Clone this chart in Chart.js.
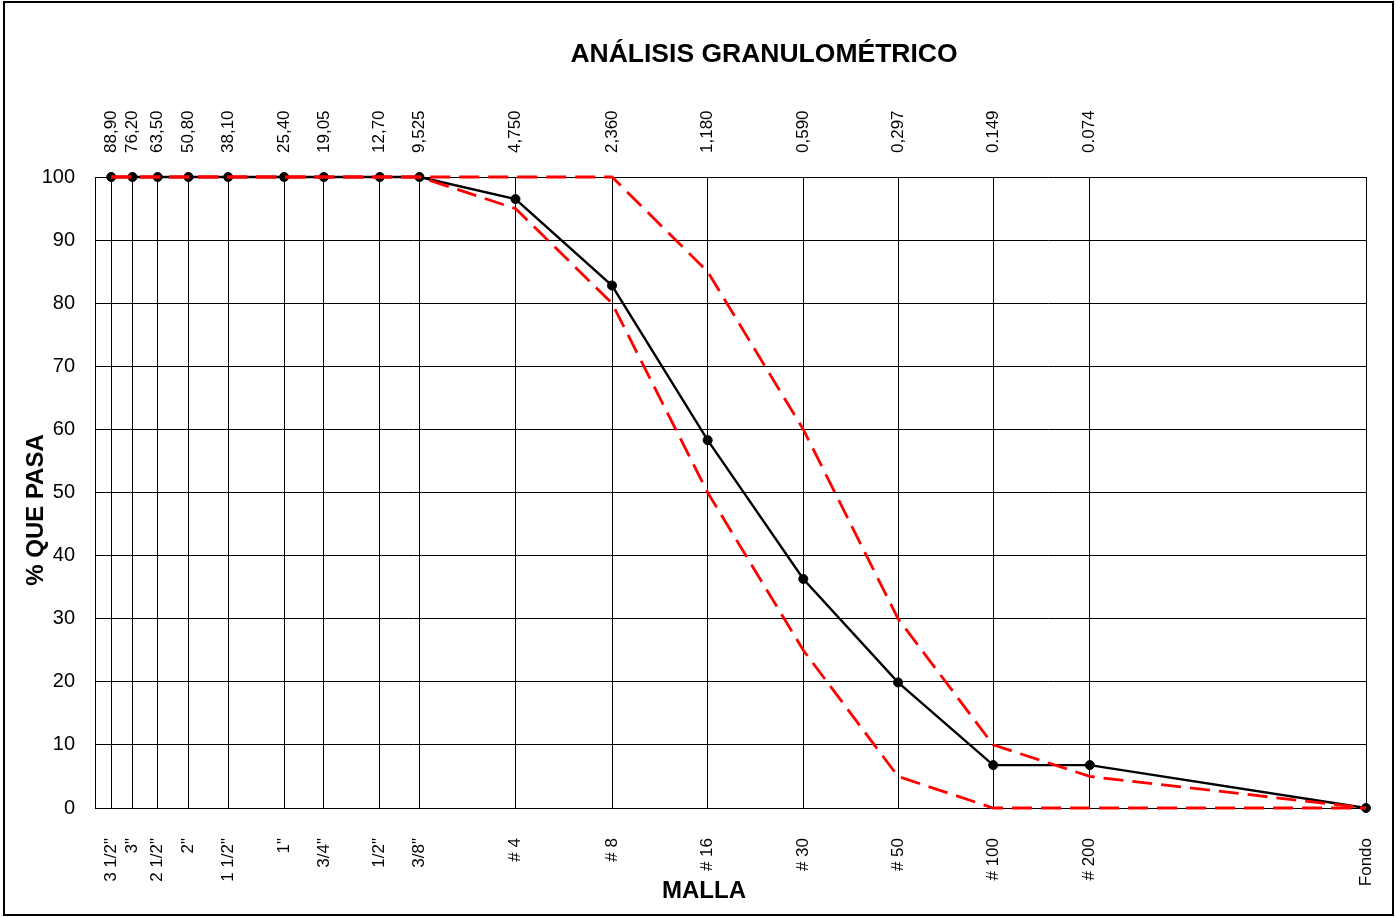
<!DOCTYPE html>
<html>
<head>
<meta charset="utf-8">
<script src="https://cdn.jsdelivr.net/npm/chart.js@4/dist/chart.umd.min.js"></script>
<style>
  html, body { margin: 0; padding: 0; background: #fff; }
  canvas { display: block; }
</style>
</head>
<body>
<canvas id="granuChart" width="1396" height="917"></canvas>
<script>
// Mallas (tamices) y su abertura en mm; "Fondo" se ubica en 0.01 en el eje log
const mallas = ['3 1/2"', '3"', '2 1/2"', '2"', '1 1/2"', '1"', '3/4"', '1/2"', '3/8"',
    '# 4', '# 8', '# 16', '# 30', '# 50', '# 100', '# 200', 'Fondo'];
const aberturas = [88.9, 76.2, 63.5, 50.8, 38.1, 25.4, 19.05, 12.7, 9.525,
    4.75, 2.36, 1.18, 0.59, 0.297, 0.149, 0.074, 0.01];
const aberturaLabels = ["88,90", "76,20", "63,50", "50,80", "38,10", "25,40", "19,05", "12,70", "9,525",
    "4,750", "2,360", "1,180", "0,590", "0,297", "0.149", "0.074"];

// % que pasa
const pasa = [100, 100, 100, 100, 100, 100, 100, 100, 100, 96.5, 82.8, 58.3, 36.3, 19.9, 6.8, 6.8, 0];
const limiteSuperior = [100, 100, 100, 100, 100, 100, 100, 100, 100, 100, 100, 85, 60, 30, 10, 5, 0];
const limiteInferior = [100, 100, 100, 100, 100, 100, 100, 100, 100, 95, 80, 50, 25, 5, 0, 0, 0];

const FONT = "'Liberation Sans', Arial, sans-serif";

function toPoints(values) {
    return aberturas.map((a, i) => ({ x: a, y: values[i] }));
}

// marco exterior y títulos
const framePlugin = {
    id: "frame",
    beforeDraw(chart) {
        const ctx = chart.ctx;
        ctx.save();
        ctx.fillStyle = "#fff";
        ctx.fillRect(0, 0, chart.width, chart.height);
        ctx.restore();
    },
    afterDraw(chart) {
        const ctx = chart.ctx;
        ctx.save();
        ctx.strokeStyle = "#000";
        ctx.lineWidth = 2;
        ctx.strokeRect(4, 2, 1389, 913);

        ctx.fillStyle = "#000";
        ctx.textAlign = "center";
        ctx.textBaseline = "alphabetic";
        ctx.font = "bold 26.5px " + FONT;
        ctx.fillText("ANÁLISIS GRANULOMÉTRICO", 764, 62);

        ctx.font = "bold 24px " + FONT;
        ctx.fillText("MALLA", 704, 898);

        ctx.translate(43, 510);
        ctx.rotate(-Math.PI / 2);
        ctx.fillText("% QUE PASA", 0, 0);
        ctx.restore();
    },
};

function fixX(height) {
    return (s) => {
        s.height = height;
        s.paddingLeft = 0;
        s.paddingRight = 0;
    };
}

const ctx = document.getElementById("granuChart").getContext("2d");

new Chart(ctx, {
    type: "line",
    data: {
        datasets: [
            {
                label: "Muestra",
                data: toPoints(pasa),
                borderColor: "#000",
                backgroundColor: "#000",
                borderWidth: 2.4,
                pointRadius: 4.5,
                pointBorderWidth: 1,
                pointBackgroundColor: "#000",
                tension: 0,
                clip: false,
                order: 2,
            },
            {
                label: "Límite superior",
                data: toPoints(limiteSuperior),
                borderColor: "#ff0000",
                borderWidth: 2.8,
                borderDash: [20, 9],
                pointRadius: 0,
                tension: 0,
                clip: false,
                order: 1,
            },
            {
                label: "Límite inferior",
                data: toPoints(limiteInferior),
                borderColor: "#ff0000",
                borderWidth: 2.8,
                borderDash: [20, 9],
                pointRadius: 0,
                tension: 0,
                clip: false,
                order: 1,
            },
        ],
    },
    options: {
        responsive: false,
        animation: false,
        devicePixelRatio: 1,
        layout: { padding: { left: 0, right: 30, top: 0, bottom: 0 } },
        plugins: {
            legend: { display: false },
            title: { display: false },
            tooltip: { enabled: false },
        },
        scales: {
            x: {
                type: "logarithmic",
                position: "bottom",
                min: 0.01,
                max: 100,
                reverse: true,
                afterBuildTicks: (s) => { s.ticks = aberturas.map((v) => ({ value: v })); },
                afterFit: fixX(109),
                ticks: {
                    autoSkip: false,
                    minRotation: 90,
                    maxRotation: 90,
                    padding: 30,
                    color: "#000",
                    font: { family: FONT, size: 17 },
                    callback: (v, i) => mallas[i],
                },
                grid: { color: "#000", lineWidth: 1, drawTicks: false },
                border: { color: "#000", width: 1 },
            },
            x2: {
                type: "logarithmic",
                position: "top",
                min: 0.01,
                max: 100,
                reverse: true,
                afterBuildTicks: (s) => {
                    s.ticks = aberturas.slice(0, aberturaLabels.length).map((v) => ({ value: v }));
                },
                afterFit: fixX(177),
                ticks: {
                    autoSkip: false,
                    minRotation: 90,
                    maxRotation: 90,
                    padding: 16,
                    labelOffset: 20.4,
                    color: "#000",
                    font: { family: FONT, size: 17 },
                    callback: (v, i) => aberturaLabels[i],
                },
                grid: { display: false },
                border: { display: false },
            },
            y: {
                min: 0,
                max: 100,
                afterFit: (s) => { s.width = 95; },
                ticks: {
                    stepSize: 10,
                    padding: 20,
                    color: "#000",
                    font: { family: FONT, size: 20 },
                },
                grid: { color: "#000", lineWidth: 1, drawTicks: false },
                border: { color: "#000", width: 1 },
            },
        },
    },
    plugins: [framePlugin],
});
</script>
</body>
</html>
